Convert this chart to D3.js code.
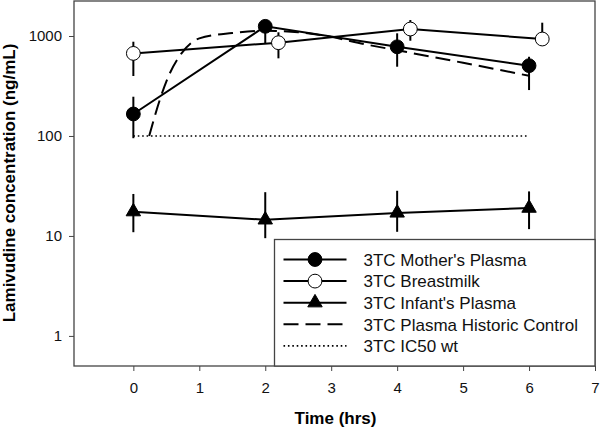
<!DOCTYPE html>
<html>
<head>
<meta charset="utf-8">
<script src="https://cdn.jsdelivr.net/npm/d3@7"></script>
<style>
  html, body { margin: 0; padding: 0; background: #fff; }
  svg { display: block; font-family: Arial, "Liberation Sans", sans-serif; }
</style>
</head>
<body>
<svg id="chart" width="600" height="428"></svg>
<script>
// ---- data ----
const times = [0, 2, 4, 6];
const milkTimes = [0, 2.2, 4.2, 6.2];

const motherPlasma = [166, 1250, 780, 505];
const motherLow    = [95, 845, 493, 288];
const motherHigh   = [247, 1400, 1064, 620];

const breastmilk     = [670, 857, 1175, 933];
const breastmilkLow  = [398, 598, 897, 800];
const breastmilkHigh = [877, 1089, 1445, 1359];

const infantPlasma = [17.5, 14.5, 17, 19];
const infantLow    = [10.9, 9.5, 11.0, 11.7];
const infantHigh   = [26.3, 27.4, 28.3, 27.9];

const historicTimes  = [0.24, 0.4, 0.53, 0.73, 1.0, 1.5, 2, 2.5, 3, 3.5, 4, 5, 6];
const historicValues = [100, 229, 392, 671, 947, 1070, 1130, 1090, 980, 830, 720, 540, 400];

const ic50Times  = [0, 6];
const ic50Values = [100, 100];

const xTicks = [0, 1, 2, 3, 4, 5, 6, 7];
const yTicks = [1, 10, 100, 1000];

const legendLabels = ["3TC Mother's Plasma", "3TC Breastmilk", "3TC Infant's Plasma",
                      "3TC Plasma Historic Control", "3TC IC50 wt"];

// ---- layout ----
const L = 74, R = 595, T = 1, B = 366;
const svg = d3.select("#chart");

const x = d3.scaleLinear().domain([-0.9, 7]).range([L, R]);
const y = d3.scaleLog().domain([0.5, 2240]).range([B, T]);

const frameColor = "#444";

// axes
const xAxis = d3.axisBottom(x).tickValues(xTicks).tickFormat(d3.format("d"))
  .tickSize(5).tickSizeOuter(0).tickPadding(11);
const gx = svg.append("g").attr("transform", `translate(0,${B})`).call(xAxis);
gx.select(".domain").remove();
gx.selectAll("line").attr("stroke", frameColor);
gx.selectAll("text").attr("font-size", 15).attr("fill", "#111")
  .attr("font-family", "Arial, 'Liberation Sans', sans-serif");

const yAxis = d3.axisLeft(y).tickValues(yTicks).tickFormat(d3.format("d"))
  .tickSize(5).tickSizeOuter(0).tickPadding(7);
const gy = svg.append("g").attr("transform", `translate(${L},0)`).call(yAxis);
gy.select(".domain").remove();
gy.selectAll("line").attr("stroke", frameColor);
gy.selectAll("text").attr("font-size", 15).attr("fill", "#111")
  .attr("font-family", "Arial, 'Liberation Sans', sans-serif");

// frame
svg.append("rect").attr("x", L).attr("y", T).attr("width", R - L).attr("height", B - T)
  .attr("fill", "none").attr("stroke", frameColor).attr("stroke-width", 1.3);

// axis titles
svg.append("text").attr("x", (L + R) / 2 + 1).attr("y", 424)
  .attr("text-anchor", "middle").attr("font-weight", "bold").attr("font-size", 17)
  .attr("fill", "#000").text("Time (hrs)");
svg.append("text").attr("transform", "translate(15,183) rotate(-90)")
  .attr("text-anchor", "middle").attr("font-weight", "bold").attr("font-size", 17)
  .attr("fill", "#000").text("Lamivudine concentration (ng/mL)");

const plot = svg.append("g");
const line = d3.line().x(d => x(d[0])).y(d => y(d[1]));
const smooth = d3.line().x(d => x(d[0])).y(d => y(d[1])).curve(d3.curveMonotoneX);

// IC50 dotted
plot.append("path").datum(d3.zip(ic50Times, ic50Values)).attr("d", line)
  .attr("fill", "none").attr("stroke", "#000").attr("stroke-width", 1.6)
  .attr("stroke-dasharray", "1.6,2.8");

// historic dashed
plot.append("path").datum(d3.zip(historicTimes, historicValues)).attr("d", smooth)
  .attr("fill", "none").attr("stroke", "#000").attr("stroke-width", 2)
  .attr("stroke-dasharray", "15,7");

function series(ts, vals, lo, hi, sym, fill) {
  const g = plot.append("g");
  g.append("path").datum(d3.zip(ts, vals)).attr("d", line)
    .attr("fill", "none").attr("stroke", "#000").attr("stroke-width", 2);
  g.selectAll("line.err").data(d3.zip(ts, lo, hi)).join("line").attr("class", "err")
    .attr("x1", d => x(d[0])).attr("x2", d => x(d[0]))
    .attr("y1", d => y(d[1])).attr("y2", d => y(d[2]))
    .attr("stroke", "#000").attr("stroke-width", 2);
  g.selectAll("path.mk").data(d3.zip(ts, vals)).join("path").attr("class", "mk")
    .attr("transform", d => `translate(${x(d[0])},${y(d[1])})`)
    .attr("d", sym).attr("fill", fill).attr("stroke", "#000").attr("stroke-width", 1);
}
const circleSym = d3.symbol(d3.symbolCircle, 150)();
const triSym = d3.symbol(d3.symbolTriangle, 90)();

series(times, infantPlasma, infantLow, infantHigh, triSym, "#000");
series(times, motherPlasma, motherLow, motherHigh, circleSym, "#000");
series(milkTimes, breastmilk, breastmilkLow, breastmilkHigh, circleSym, "#fff");

// legend
const lg = svg.append("g");
lg.append("rect").attr("x", 274.5).attr("y", 239.5).attr("width", R - 274.5).attr("height", B - 239.5)
  .attr("fill", "#fff").attr("stroke", frameColor).attr("stroke-width", 1.3);
const rowY = i => 259.5 + i * 21.6;
const styles = [
  {sym: circleSym, fill: "#000", dash: null, w: 2},
  {sym: circleSym, fill: "#fff", dash: null, w: 2},
  {sym: triSym, fill: "#000", dash: null, w: 2},
  {sym: null, dash: "15,7", w: 2},
  {sym: null, dash: "1.6,2.8", w: 1.6}
];
legendLabels.forEach((lab, i) => {
  const s = styles[i];
  lg.append("line").attr("x1", 283.5).attr("x2", 346.5).attr("y1", rowY(i)).attr("y2", rowY(i))
    .attr("stroke", "#000").attr("stroke-width", s.w).attr("stroke-dasharray", s.dash);
  if (s.sym) {
    lg.append("path").attr("transform", `translate(315,${rowY(i)})`).attr("d", s.sym)
      .attr("fill", s.fill).attr("stroke", "#000").attr("stroke-width", 1);
  }
  lg.append("text").attr("x", 363.5).attr("y", rowY(i) + 6.2).attr("font-size", 17)
    .attr("fill", "#111").text(lab);
});
</script>
</body>
</html>
